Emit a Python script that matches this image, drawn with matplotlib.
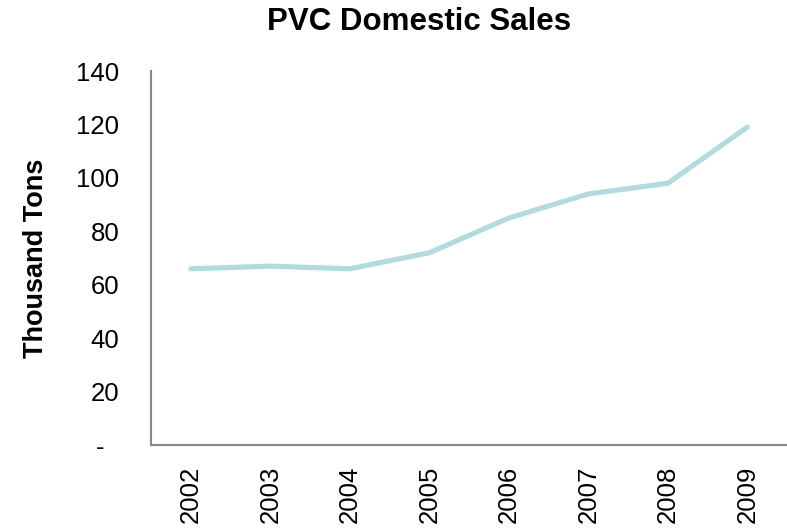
import matplotlib.pyplot as plt

plt.rcParams['font.family'] = ['Liberation Sans', 'DejaVu Sans']

years = ['2002', '2003', '2004', '2005', '2006', '2007', '2008', '2009']
sales = [66, 67, 66, 72, 85, 94, 98, 119]
y_ticks = [0, 20, 40, 60, 80, 100, 120, 140]
y_tick_labels = ['-  ', '20', '40', '60', '80', '100', '120', '140']

fig = plt.figure(figsize=(7.87, 5.30), dpi=100)
ax = fig.add_axes([0.192, 0.160, 0.808, 0.706])

x = range(len(years))
ax.plot(x, sales, color='#b3dadd', linewidth=3.7, solid_capstyle='round', solid_joinstyle='round')

ax.set_xlim(-0.5, len(years) - 0.5)
ax.set_ylim(0, 140)
ax.set_xticks(list(x))
ax.set_xticklabels(years, rotation=90, fontsize=18.5)
ax.set_yticks(y_ticks)
ax.set_yticklabels(y_tick_labels, fontsize=18.5)
ax.tick_params(length=0)
ax.tick_params(axis='x', pad=15)
ax.tick_params(axis='y', pad=23)

for s in ['top', 'right']:
    ax.spines[s].set_visible(False)
for s in ['left', 'bottom']:
    ax.spines[s].set_color('#878787')
    ax.spines[s].set_linewidth(1.5)

ax.set_ylabel('Thousand Tons', fontsize=19.5, fontweight='bold')
ax.yaxis.set_label_coords(-0.161, 0.5)
fig.text(0.533, 0.958, 'PVC Domestic Sales', fontsize=22.5, fontweight='bold',
         ha='center', va='center')

fig.savefig('out.png', dpi=100)
